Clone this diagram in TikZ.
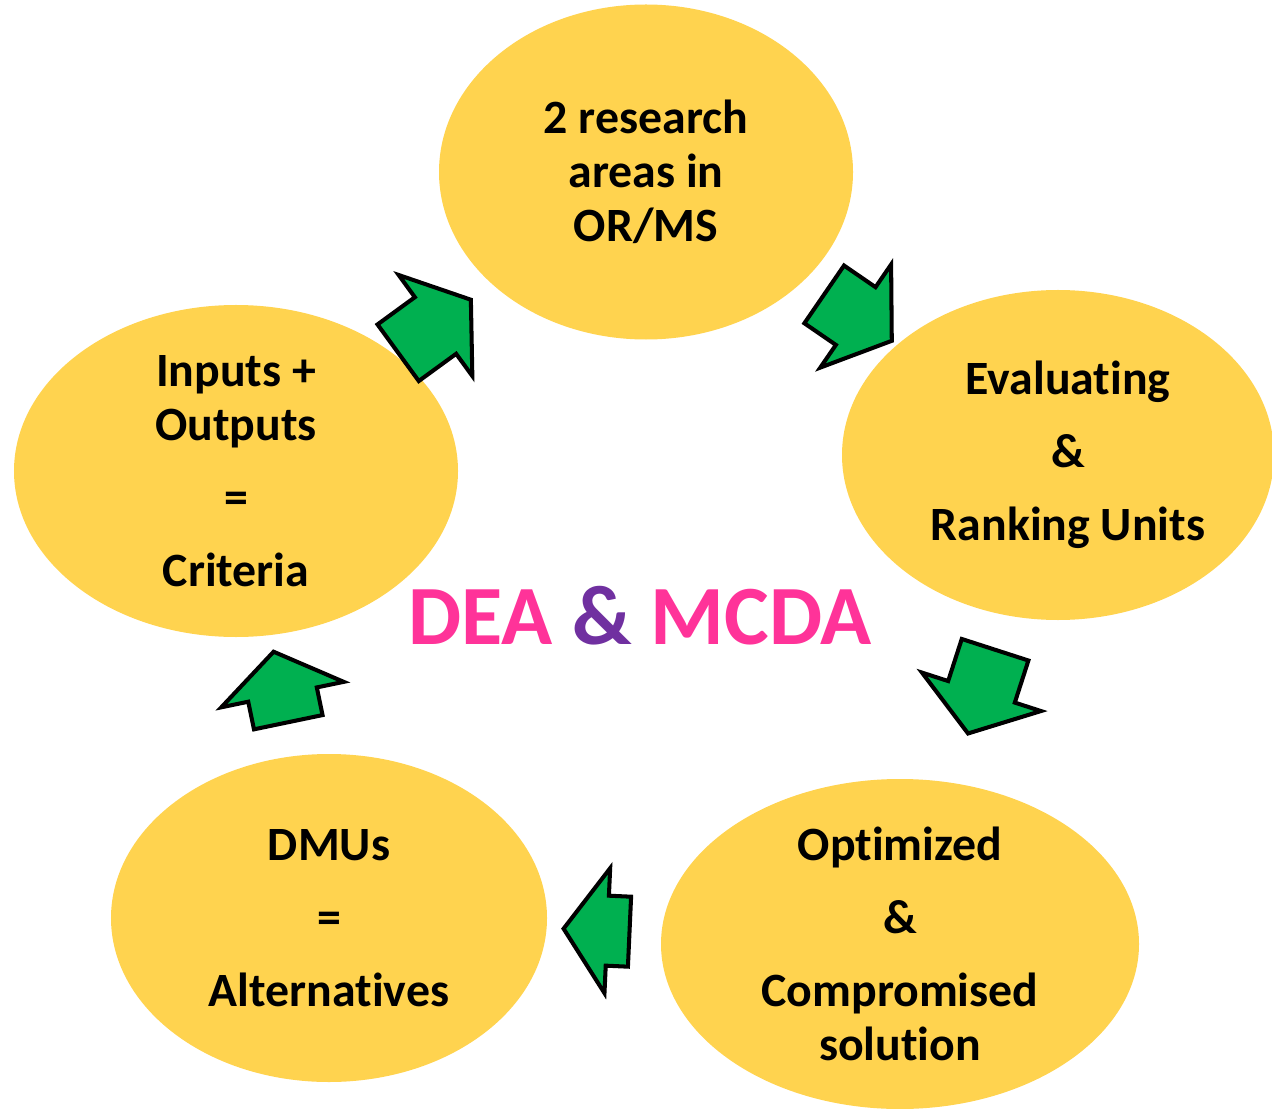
\documentclass[tikz,border=0pt]{standalone}
\usepackage{fontspec}
\setmainfont{Carlito}[Ligatures=NoCommon]
\usetikzlibrary{shapes.geometric,shapes.arrows}
\definecolor{bubbleyellow}{HTML}{FFD34F}
\definecolor{arrowgreen}{HTML}{00B050}
\definecolor{titlepink}{HTML}{FF3399}
\definecolor{titlepurple}{HTML}{7030A0}
\tikzset{
  bubble/.style={ellipse,fill=bubbleyellow,inner sep=0pt},
  bubbletext/.style={align=center,inner sep=0pt,font=\fontsize{27.2}{30.7}\selectfont\bfseries},
  flowarrow/.style={single arrow,draw=black,fill=arrowgreen,line width=2.3pt,line join=miter,
    inner xsep=0pt,inner ysep=.66cm,minimum width=1pt,single arrow head extend=.55cm,
    single arrow tip angle=110,sloped,allow upside down},
}

\begin{document}
\begin{tikzpicture}[x=.2mm,y=-.2mm]
  \useasboundingbox (0,0) rectangle (1272,1109);
  % the five bubbles
  \node[bubble,minimum width=8.28cm,minimum height=6.7cm] (research) at (646,172) {};
  \node[bubble,minimum width=8.64cm,minimum height=6.6cm] (ranking) at (1058,455) {};
  \node[bubble,minimum width=9.56cm,minimum height=6.6cm] (solution) at (900,944) {};
  \node[bubble,minimum width=8.72cm,minimum height=6.56cm] (dmus) at (329,918) {};
  \node[bubble,minimum width=8.88cm,minimum height=6.64cm] (criteria) at (236,471) {};
  % their texts
  \node[bubbletext] (research-text) at (research.center) {2 research\\areas in\\OR/MS};
  \node[bubbletext] (ranking-text) at (1068,455) {Evaluating\\[.38cm]\&\\[.38cm]Ranking Units};
  \node[bubbletext] (solution-text) at (solution.center) {Optimized\\[.38cm]\&\\[.38cm]Compromised\\solution};
  \node[bubbletext] (dmus-text) at (dmus.center) {DMUs\\[.38cm]=\\[.38cm]Alternatives};
  \node[bubbletext] (criteria-text) at (criteria.center) {Inputs +\\Outputs\\[.38cm]=\\[.38cm]Criteria};
  % block arrows between the bubbles
  \path (criteria.center) -- (research.center) node[flowarrow,pos=.46,minimum height=1.8cm] (arr1) {};
  \path (research.center) -- (ranking.center) node[flowarrow,pos=.49,minimum height=1.64cm] (arr2) {};
  \path (ranking.center) -- (solution.center) node[flowarrow,pos=.46,minimum height=1.76cm] (arr3) {};
  \path (solution.center) -- (dmus.center) node[flowarrow,pos=.51,minimum height=1.32cm] (arr4) {};
  \path (dmus.center) -- (criteria.center) node[flowarrow,pos=.49,minimum height=1.44cm] (arr5) {};
  % title in the middle
  \node[font=\fontsize{48}{58}\selectfont\bfseries,text=titlepink,inner sep=0pt] (title) at (640,616)
    {DEA {\color{titlepurple}\&} MCDA};
\end{tikzpicture}
\end{document}
